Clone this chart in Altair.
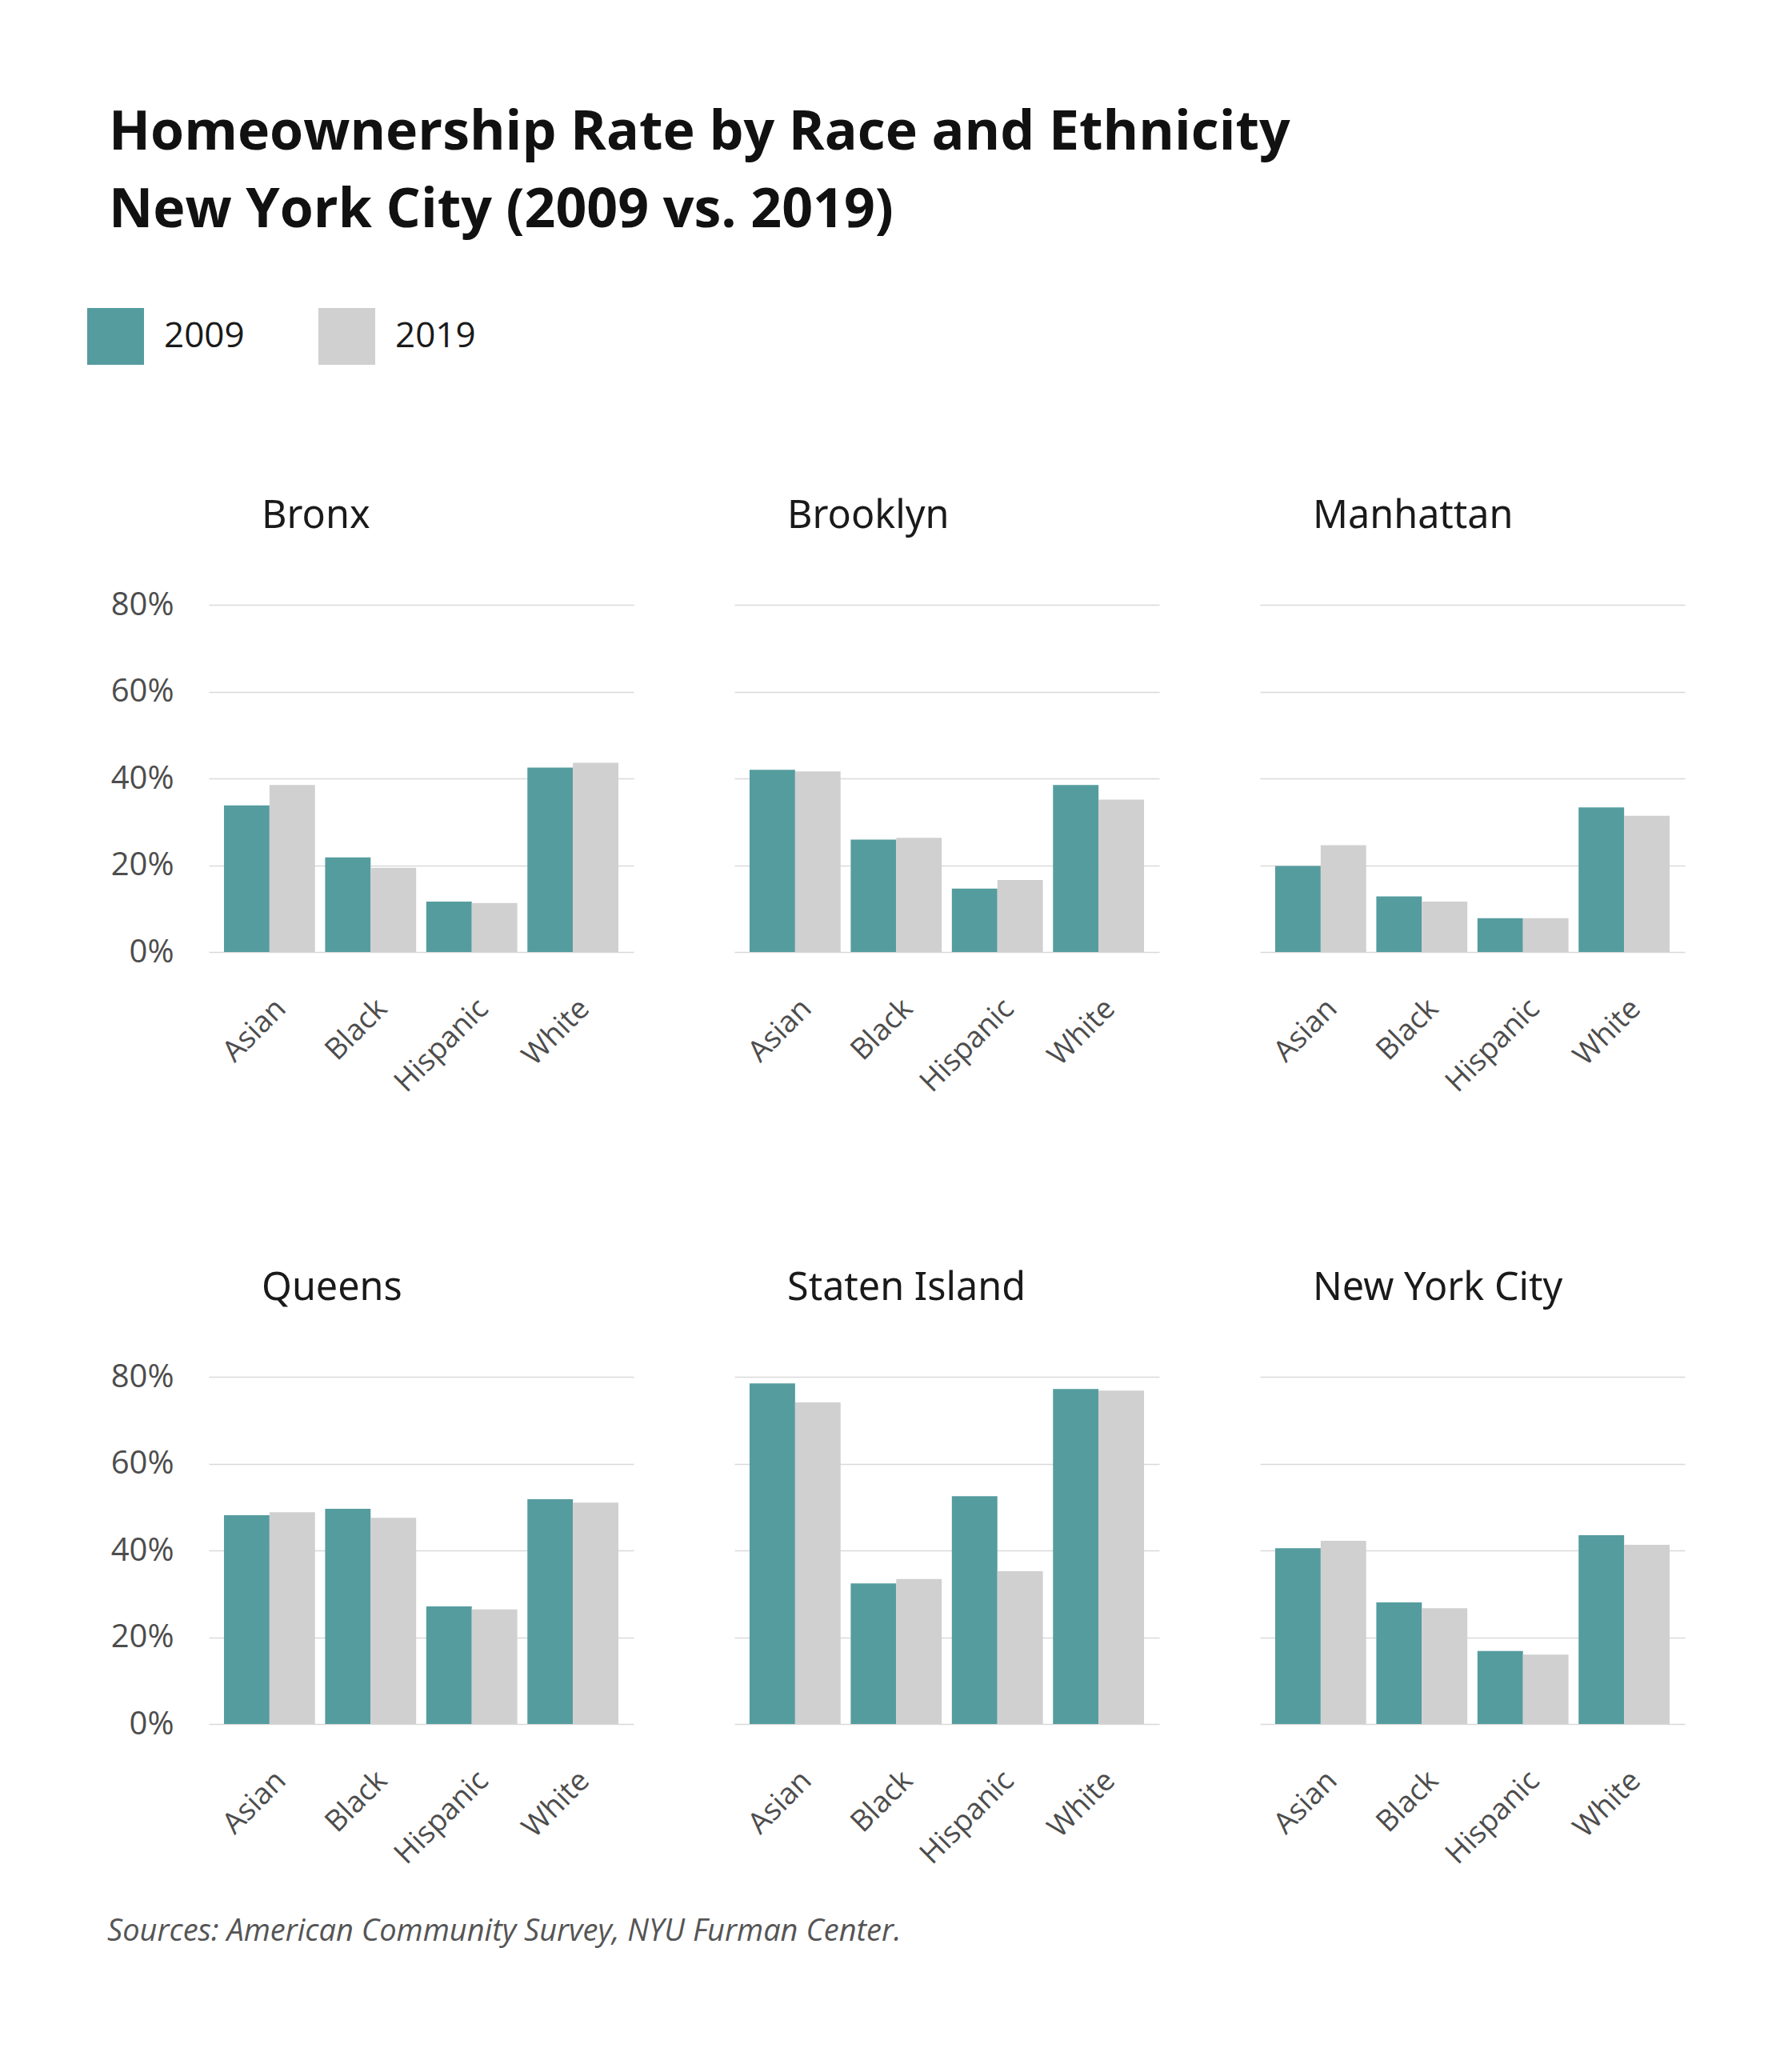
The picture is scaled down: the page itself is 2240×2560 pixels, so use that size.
import altair as alt
import pandas as pd

boroughs = ["Bronx", "Brooklyn", "Manhattan", "Queens", "Staten Island", "New York City"]
races = ["Asian", "Black", "Hispanic", "White"]
years = ["2009", "2019"]

# homeownership rate per race (Asian, Black, Hispanic, White)
bronx_2009 = [0.338, 0.218, 0.116, 0.425]
bronx_2019 = [0.385, 0.194, 0.113, 0.436]
brooklyn_2009 = [0.420, 0.259, 0.146, 0.385]
brooklyn_2019 = [0.416, 0.263, 0.166, 0.351]
manhattan_2009 = [0.198, 0.128, 0.078, 0.333]
manhattan_2019 = [0.246, 0.116, 0.078, 0.314]
queens_2009 = [0.481, 0.496, 0.271, 0.518]
queens_2019 = [0.488, 0.475, 0.264, 0.510]
staten_2009 = [0.785, 0.324, 0.525, 0.772]
staten_2019 = [0.741, 0.334, 0.352, 0.768]
nyc_2009 = [0.405, 0.280, 0.168, 0.435]
nyc_2019 = [0.422, 0.267, 0.160, 0.413]

y_ticks = [0, 0.2, 0.4, 0.6, 0.8]
title_lines = ["Homeownership Rate by Race and Ethnicity", "New York City (2009 vs. 2019)"]
footer_text = "Sources: American Community Survey, NYU Furman Center."

series = {
    "Bronx": (bronx_2009, bronx_2019),
    "Brooklyn": (brooklyn_2009, brooklyn_2019),
    "Manhattan": (manhattan_2009, manhattan_2019),
    "Queens": (queens_2009, queens_2019),
    "Staten Island": (staten_2009, staten_2019),
    "New York City": (nyc_2009, nyc_2019),
}

rows = []
for b in boroughs:
    v09, v19 = series[b]
    for i, r in enumerate(races):
        rows.append({"borough": b, "race": r, "year": "2009", "rate": v09[i]})
        rows.append({"borough": b, "race": r, "year": "2019", "rate": v19[i]})
df = pd.DataFrame(rows)

TEAL = "#559c9e"
GREY = "#d0d0d0"
LABEL_FONT = "Open Sans"

legend = alt.Legend(
    orient="none", legendX=-152, legendY=-371, direction="horizontal", title=None,
    symbolType="square", symbolSize=5041, symbolStrokeWidth=0, symbolOpacity=1,
    labelFont=LABEL_FONT, labelFontSize=44, labelColor="#1a1a1a", labelOffset=25,
    columnPadding=92,
)


def panel(name, first_col):
    data = df[df["borough"] == name]
    y_axis_kw = dict(
        values=y_ticks, format=".0%", title=None, ticks=False, domain=False,
        labels=first_col, labelPadding=44, labelFontSize=40, labelFont=LABEL_FONT,
        labelColor="#4d4d4d", gridColor="#d9d9d9", gridWidth=1.5,
    )
    if not first_col:
        y_axis_kw["minExtent"] = 0
        y_axis_kw["maxExtent"] = 0
    bars = alt.Chart(data).mark_bar().encode(
        x=alt.X(
            "race:N", sort=races,
            scale=alt.Scale(paddingInner=0.1, paddingOuter=0.15),
            axis=alt.Axis(
                title=None, labelAngle=-45, labelAlign="right", labelBaseline="top",
                labelPadding=52, labelOffset=2, labelFontSize=37, labelFont=LABEL_FONT,
                labelColor="#4d4d4d", ticks=False, domain=False, grid=False,
            ),
        ),
        xOffset=alt.XOffset("year:N", sort=years),
        y=alt.Y("rate:Q", scale=alt.Scale(domain=[0, 0.8]), axis=alt.Axis(**y_axis_kw)),
        color=alt.Color("year:N", scale=alt.Scale(domain=years, range=[TEAL, GREY]), legend=legend),
    )
    name_label = alt.Chart(pd.DataFrame({"name": [name]})).mark_text(
        align="left", baseline="alphabetic", font="Noto Sans", fontSize=48.5,
        color="#1a1a1a",
    ).encode(text="name:N", x=alt.value(66), y=alt.value(-96))
    return alt.layer(bars, name_label).properties(width=531, height=434)


row1 = alt.hconcat(*[panel(b, i == 0) for i, b in enumerate(boroughs[:3])], spacing=126)
row2 = alt.hconcat(*[panel(b, i == 0) for i, b in enumerate(boroughs[3:])], spacing=126)

footer = alt.Chart(pd.DataFrame({"t": [footer_text]})).mark_text(
    align="left", baseline="top", font=LABEL_FONT, fontStyle="italic",
    fontSize=38, color="#555555",
).encode(text="t:N", x=alt.value(-127), y=alt.value(0)).properties(width=10, height=1)

grid = alt.vconcat(row1, row2, spacing=214)

chart = alt.vconcat(
    grid, footer, spacing=59,
    title=alt.TitleParams(
        title_lines, anchor="start", frame="group", offset=87, dx=-125,
        font="Open Sans", fontSize=68, fontWeight="bold", color="#111111", lineHeight=97,
    ),
).properties(
    padding={"left": 101, "top": 125, "right": 40, "bottom": 60},
    background="white",
).configure_view(stroke=None)

chart.save("out.html", embed_options={"renderer": "svg", "actions": False})
